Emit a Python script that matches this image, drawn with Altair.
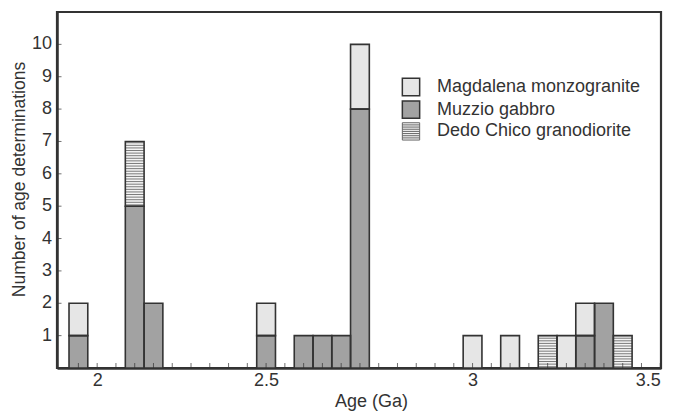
import altair as alt
import pandas as pd

# ---- data ----
ages = [1.95, 2.10, 2.15, 2.45, 2.55, 2.60, 2.65, 2.70, 3.00, 3.10, 3.20, 3.25, 3.30, 3.35, 3.40]
muzzio = [1, 5, 2, 1, 1, 1, 1, 8, 0, 0, 0, 0, 1, 2, 0]
magdalena = [1, 0, 0, 1, 0, 0, 0, 2, 1, 1, 0, 1, 1, 0, 0]
dedo = [0, 2, 0, 0, 0, 0, 0, 0, 0, 0, 1, 0, 0, 0, 1]
series = ["Magdalena monzogranite", "Muzzio gabbro", "Dedo Chico granodiorite"]
x_label_values = [2.0, 2.45, 3.0, 3.5]
x_tick_values = [1.95, 2.0, 2.05, 2.1, 2.15, 2.2, 2.25, 2.3, 2.35, 2.4, 2.45, 2.5,
                 2.55, 2.6, 2.65, 2.7, 2.75, 2.8, 2.85, 2.9, 2.95, 3.0, 3.05, 3.1,
                 3.15, 3.2, 3.25, 3.3, 3.35, 3.4, 3.45, 3.5]
y_tick_values = [1, 2, 3, 4, 5, 6, 7, 8, 9, 10]

BW = 0.05
FONT = "Liberation Sans"
FS = 18
INK = "#333333"
XMIN = 1.893

rows = []
for a, mu, ma, de in zip(ages, muzzio, magdalena, dedo):
    base = 0
    for name, n in (("Muzzio gabbro", mu), ("Magdalena monzogranite", ma), ("Dedo Chico granodiorite", de)):
        if n:
            rows.append(dict(age=a, x0=a - BW / 2, x1=a + BW / 2, y0=base, y1=base + n, series=name))
            base += n
df = pd.DataFrame(rows)

# stripes for the Dedo Chico pattern
stripes = []
step = 0.08
for r in rows:
    if r["series"] == "Dedo Chico granodiorite":
        y = r["y0"] + step / 2
        while y < r["y1"]:
            stripes.append(dict(x0=r["x0"], x1=r["x1"], y=y))
            y += step
sdf = pd.DataFrame(stripes)

xscale = alt.Scale(domain=[XMIN, 3.502], nice=False, zero=False)
yscale = alt.Scale(domain=[0, 11], nice=False)

stripe_path = "M-1,-1H1V1H-1Z" + "".join(f"M-1,{v}H1" for v in [-0.75, -0.5, -0.25, 0, 0.25, 0.5, 0.75])
is_dedo = "datum.label == 'Dedo Chico granodiorite'"

color = alt.Color(
    "series:N",
    scale=alt.Scale(domain=series, range=["#e6e6e6", "#a2a2a2", "#f4f4f4"]),
    legend=alt.Legend(
        title=None, orient="none", legendX=345, legendY=66, padding=0,
        symbolType={"expr": f"{is_dedo} ? '{stripe_path}' : 'square'"},
        symbolSize=300,
        symbolStrokeColor={"expr": f"{is_dedo} ? '#666666' : '#333333'"},
        symbolStrokeWidth={"expr": f"{is_dedo} ? 1 : 1.5"},
        labelFont=FONT, labelFontSize=FS, labelColor=INK, labelOffset=17, rowPadding=-1.3,
        labelLimit=400,
    ),
)

xaxis = alt.Axis(
    values=x_label_values, ticks=False, domain=True, domainColor=INK, domainWidth=2.5,
    grid=False, labelOverlap=False,
    labelExpr="datum.value > 2.4 && datum.value < 2.5 ? '2.5' : toString(datum.value)",
    labelFont=FONT, labelFontSize=FS, labelColor=INK, labelPadding=3,
    title="Age (Ga)", titleFont=FONT, titleFontSize=FS, titleFontWeight="normal", titleColor=INK,
    titleX=314, titleY=38, titleBaseline="alphabetic", titleAnchor="start", titleAlign="center",
)
yaxis = alt.Axis(
    values=y_tick_values, ticks=False, labels=False, domain=True, domainColor=INK, domainWidth=2.5,
    grid=False,
    title="Number of  age determinations", titleFont=FONT, titleFontSize=17.5,
    titleFontWeight="normal", titleColor=INK,
    titleX=-33, titleY=167, titleAngle=270, titleAlign="center", titleBaseline="alphabetic",
)

fills = alt.Chart(df).mark_bar(strokeWidth=0).encode(
    x=alt.X("x0:Q", scale=xscale, axis=xaxis),
    x2="x1:Q",
    y=alt.Y("y0:Q", scale=yscale, axis=yaxis),
    y2="y1:Q",
    color=color,
)

stripe_layer = alt.Chart(sdf).mark_rule(color="#7a7a7a", strokeWidth=1).encode(
    x=alt.X("x0:Q", scale=xscale, axis=xaxis), x2="x1:Q",
    y=alt.Y("y:Q", scale=yscale, axis=yaxis)
)

outlines = alt.Chart(df).mark_bar(fillOpacity=0, stroke=INK, strokeWidth=1.6).encode(
    x=alt.X("x0:Q", scale=xscale, axis=xaxis), x2="x1:Q",
    y=alt.Y("y0:Q", scale=yscale, axis=yaxis), y2="y1:Q"
)

xticks = alt.Chart(pd.DataFrame({"t": x_tick_values})).mark_tick(
    orient="vertical", size=10, thickness=1, color=INK, clip=True
).encode(x=alt.X("t:Q", scale=xscale, axis=xaxis), y=alt.datum(0))

ytick_df = pd.DataFrame({"t": y_tick_values})
yticks = alt.Chart(ytick_df).mark_tick(
    orient="horizontal", size=9, thickness=1, color=INK, clip=True
).encode(y=alt.Y("t:Q", scale=yscale, axis=yaxis), x=alt.datum(XMIN))

ylabels = alt.Chart(ytick_df).mark_text(
    align="right", baseline="middle", dx=-5, font=FONT, fontSize=FS, color=INK
).encode(y=alt.Y("t:Q", scale=yscale, axis=yaxis), x=alt.datum(XMIN), text="t:Q")

chart = alt.layer(fills, stripe_layer, outlines, xticks, yticks, ylabels).properties(
    width=604, height=356,
    background="white",
    view=alt.ViewBackground(stroke=INK, strokeWidth=2.2),
    autosize=alt.AutoSizeParams(type="none"),
    padding={"left": 49, "top": 4, "right": 4, "bottom": 43},
).configure_view(stroke=INK, strokeWidth=2.2)

chart.save("out.html", embed_options={"renderer": "svg", "actions": False})
